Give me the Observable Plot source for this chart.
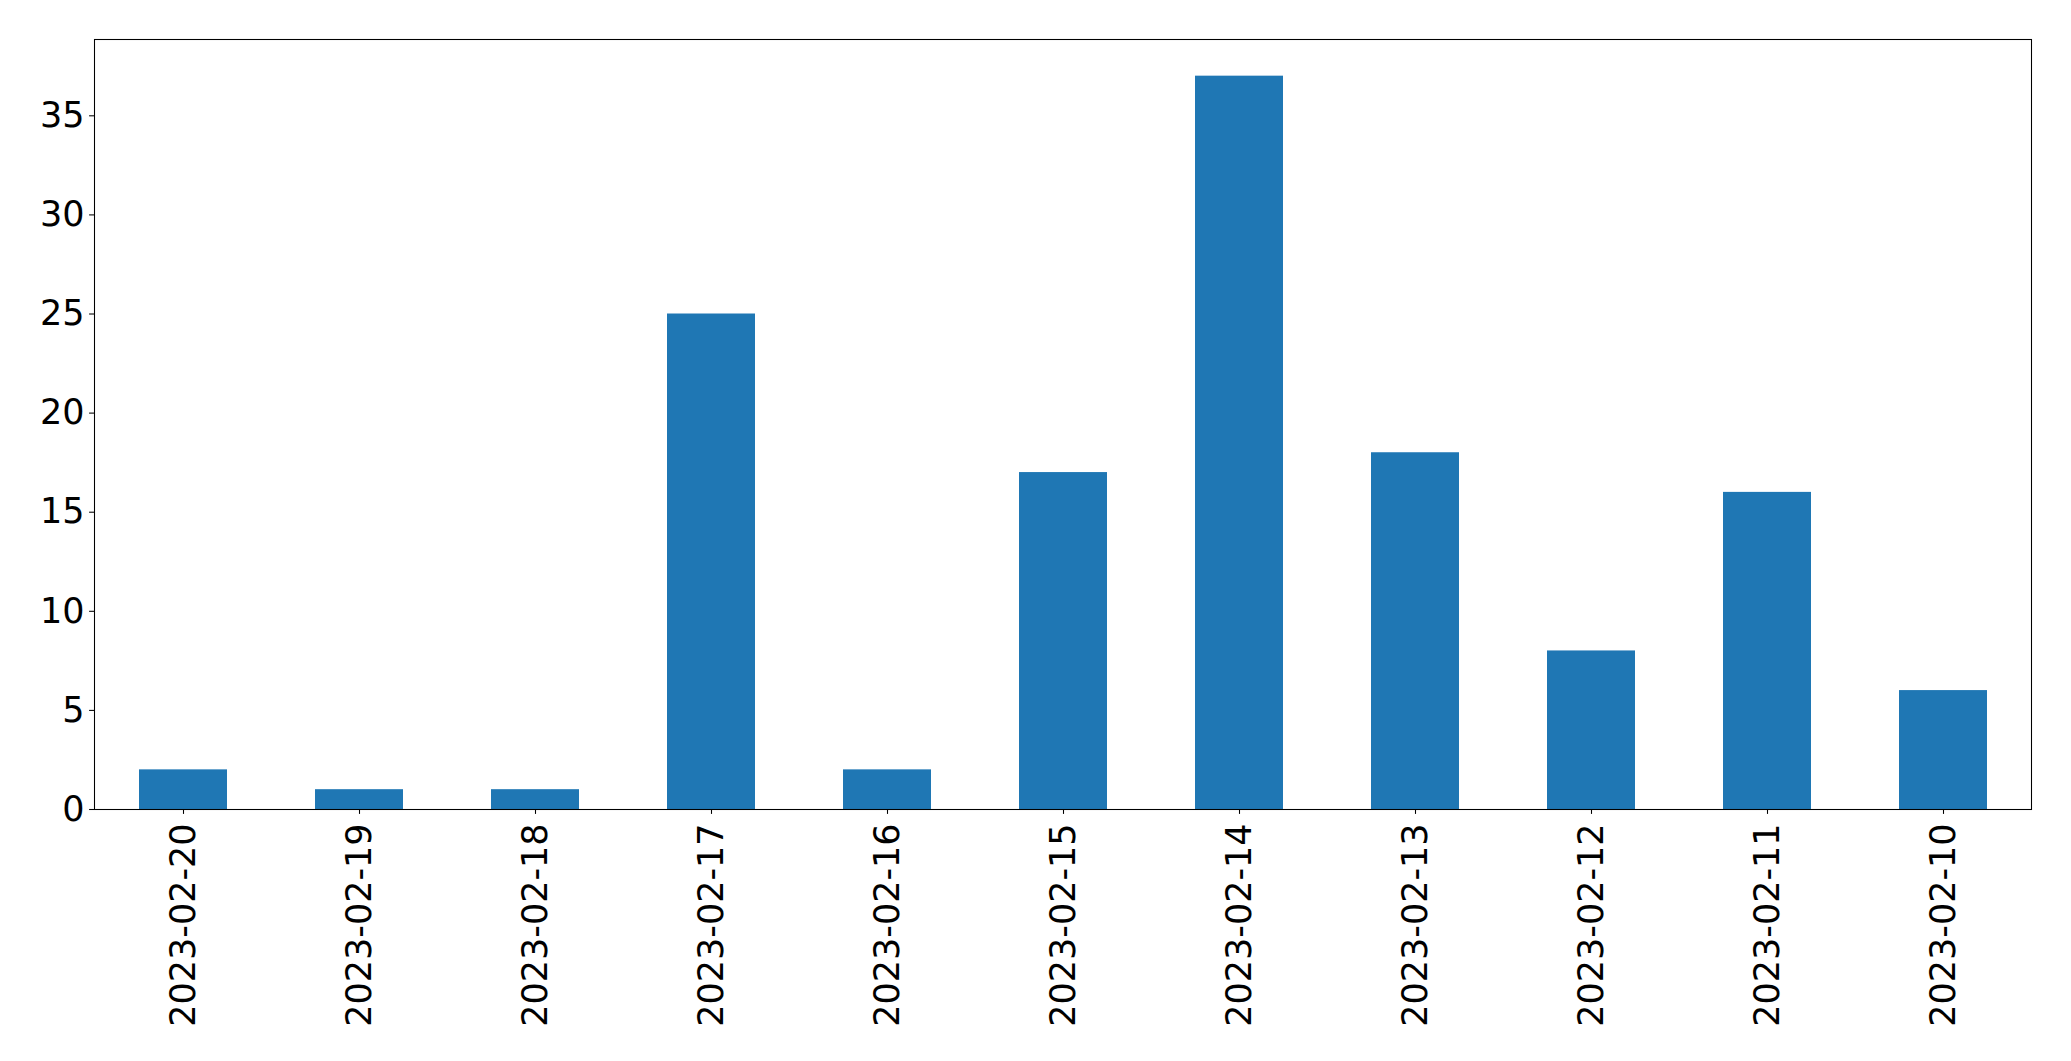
<!DOCTYPE html>
<html>
<head>
<meta charset="utf-8">
<script src="https://cdn.jsdelivr.net/npm/d3@7"></script>
<script src="https://cdn.jsdelivr.net/npm/@observablehq/plot@0.6"></script>
<style>
  html, body { margin: 0; padding: 0; background: #fff; }
  #chart svg { display: block; }
</style>
</head>
<body>
<div id="chart"></div>
<script>
const dates = ["2023-02-20","2023-02-19","2023-02-18","2023-02-17","2023-02-16","2023-02-15","2023-02-14","2023-02-13","2023-02-12","2023-02-11","2023-02-10"];
const counts = [2, 1, 1, 25, 2, 17, 37, 18, 8, 16, 6];
const yTicks = [0, 5, 10, 15, 20, 25, 30, 35];

const data = dates.map((d, i) => ({date: d, count: counts[i]}));

const chart = Plot.plot({
  width: 2071,
  height: 1061,
  marginLeft: 94,
  marginRight: 40,
  marginTop: 39,
  marginBottom: 252,
  style: {fontFamily: "'DejaVu Sans', sans-serif", fontSize: "35px", color: "#000", background: "#fff"},
  x: {domain: dates, paddingInner: 0.5, paddingOuter: 0.25, label: null},
  y: {domain: [0, 38.85], label: null},
  marks: [
    Plot.barY(data, {x: "date", y: "count", fill: "#1f77b4"}),
    Plot.axisY({ticks: yTicks, tickSize: 4.9, tickPadding: 5, fontSize: 35, label: null, stroke: "#000", strokeWidth: 1.07, strokeOpacity: 1}),
    Plot.axisX({tickRotate: -90, tickSize: 4.9, tickPadding: 9, fontSize: 35, label: null, stroke: "#000", strokeWidth: 1.07, strokeOpacity: 1}),
    Plot.frame({stroke: "#000", strokeWidth: 1.07, strokeOpacity: 1})
  ]
});
document.getElementById("chart").appendChild(chart);
</script>
</body>
</html>
